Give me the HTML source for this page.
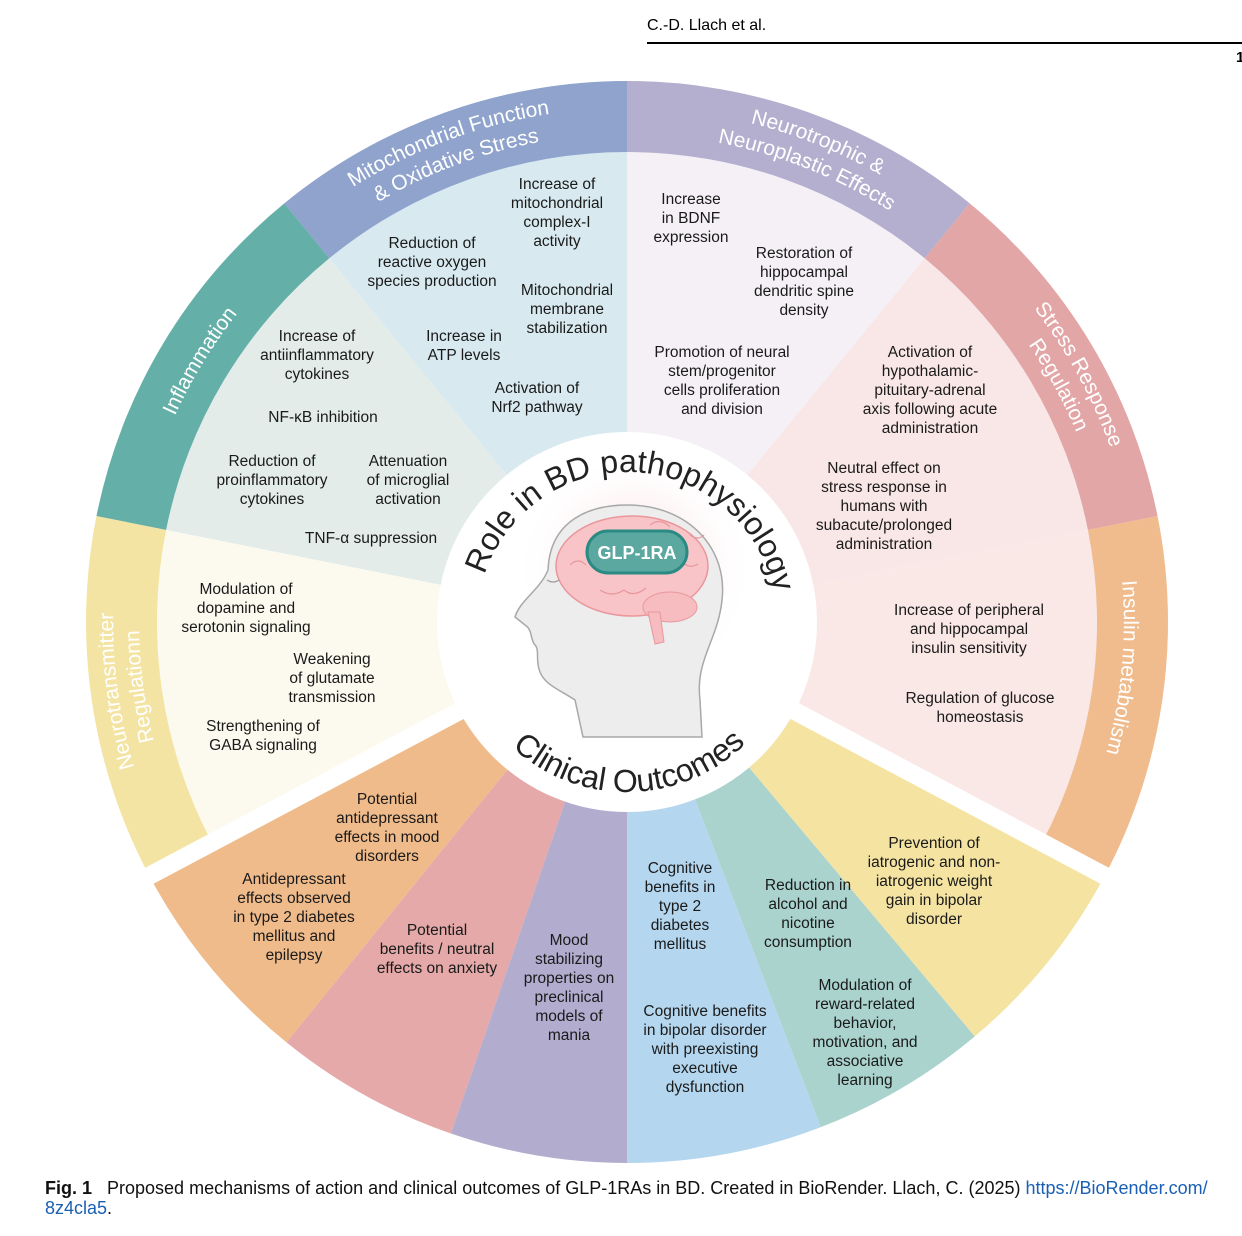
<!DOCTYPE html>
<html><head><meta charset="utf-8">
<style>
body{margin:0;background:#fff;}
#w{position:relative;width:1242px;height:1236px;overflow:hidden;font-family:"Liberation Sans",sans-serif;}
.t{position:absolute;width:300px;text-align:center;font-size:15.5px;line-height:19px;color:#1a1a1a;white-space:nowrap;}
svg{position:absolute;left:0;top:0;}
</style></head><body><div id="w">
<svg width="1242" height="1236" viewBox="0 0 1242 1236">
<defs>
<radialGradient id="glow" cx="0.5" cy="0.5" r="0.5"><stop offset="0" stop-color="#f7c6c8" stop-opacity="0.9"/><stop offset="1" stop-color="#fff" stop-opacity="0"/></radialGradient>
<path id="c514" d="M627,1136 A514,514 0 0 1 627,108 A514,514 0 0 1 627,1136"/>
<path id="c488" d="M627,1110 A488,488 0 0 1 627,134 A488,488 0 0 1 627,1110"/>
<path id="c497" d="M627,1119 A497,497 0 0 1 627,125 A497,497 0 0 1 627,1119"/>
<path id="c150" d="M627,772 A150,150 0 0 1 627,472 A150,150 0 0 1 627,772"/>
<path id="b170" d="M457,622 A170,170 0 0 0 797,622"/>
</defs>
<path d="M627,622 L149.4,876 A541,541 0 0 1 96.5,516 Z" fill="#fcfaee"/>
<path d="M627,622 L96.5,516 A541,541 0 0 1 284.3,203.4 Z" fill="#e3ece9"/>
<path d="M627,622 L284.3,203.4 A541,541 0 0 1 627,81 Z" fill="#d8eaf0"/>
<path d="M627,622 L627,81 A541,541 0 0 1 969.7,203.4 Z" fill="#f4f0f5"/>
<path d="M627,622 L969.7,203.4 A541,541 0 0 1 1157.5,516 Z" fill="#f9e6e6"/>
<path d="M627,622 L1157.5,516 A541,541 0 0 1 1104.6,876 Z" fill="#f9e8e6"/>
<path d="M149.4,876 A541,541 0 0 1 96.5,516 L166.1,529.9 A470,470 0 0 0 212,842.7 Z" fill="#f4e4a3"/>
<path d="M96.5,516 A541,541 0 0 1 284.3,203.4 L329.3,258.3 A470,470 0 0 0 166.1,529.9 Z" fill="#64afa7"/>
<path d="M284.3,203.4 A541,541 0 0 1 627,81 L627,152 A470,470 0 0 0 329.3,258.3 Z" fill="#8fa3cd"/>
<path d="M627,81 A541,541 0 0 1 969.7,203.4 L924.7,258.3 A470,470 0 0 0 627,152 Z" fill="#b4aecf"/>
<path d="M969.7,203.4 A541,541 0 0 1 1157.5,516 L1087.9,529.9 A470,470 0 0 0 924.7,258.3 Z" fill="#e3a6a7"/>
<path d="M1157.5,516 A541,541 0 0 1 1104.6,876 L1042,842.7 A470,470 0 0 0 1087.9,529.9 Z" fill="#f0bc8d"/>
<path d="M627,622 L149.4,876 A541,541 0 0 0 286.5,1042.4 Z" fill="#f0bb8a"/>
<path d="M627,622 L286.5,1042.4 A541,541 0 0 0 450.9,1133.5 Z" fill="#e4a9a8"/>
<path d="M627,622 L450.9,1133.5 A541,541 0 0 0 627,1163 Z" fill="#b2accf"/>
<path d="M627,622 L627,1163 A541,541 0 0 0 820.9,1127.1 Z" fill="#b4d6ee"/>
<path d="M627,622 L820.9,1127.1 A541,541 0 0 0 974.8,1036.4 Z" fill="#aad3ce"/>
<path d="M627,622 L974.8,1036.4 A541,541 0 0 0 1104.6,876 Z" fill="#f4e3a1"/>
<line x1="627" y1="622" x2="132" y2="885" stroke="#fff" stroke-width="18"/>
<line x1="627" y1="622" x2="1122" y2="885" stroke="#fff" stroke-width="18"/>
<circle cx="627" cy="622" r="190" fill="#fff"/>
<g fill="#fff" font-family="Liberation Sans, sans-serif" font-size="21" text-anchor="middle">
<text><textPath href="#c514" startOffset="738">Neurotransmitter</textPath></text>
<text><textPath href="#c488" startOffset="702">Regulationn</textPath></text>
<text><textPath href="#c497" startOffset="1053">Inflammation</textPath></text>
<text><textPath href="#c514" startOffset="1431">Mitochondrial Function</textPath></text>
<text><textPath href="#c488" startOffset="1358">&amp; Oxidative Stress</textPath></text>
<text><textPath href="#c514" startOffset="1809">Neurotrophic &amp;</textPath></text>
<text><textPath href="#c488" startOffset="1717">Neuroplastic Effects</textPath></text>
<text><textPath href="#c514" startOffset="2164">Stress Response</textPath></text>
<text><textPath href="#c488" startOffset="2054">Regulation</textPath></text>
<text><textPath href="#c497" startOffset="2387">Insulin metabolism</textPath></text>
</g>
<circle cx="635" cy="570" r="120" fill="url(#glow)"/>
<path d="M583,737 L575,700 C560,690 545,685 540,672 C535,660 540,650 535,645 C530,640 533,630 525,625 L515,617 C520,600 540,590 548,570 C550,520 590,505 627,505 C690,505 728,550 722,600 C718,640 695,660 700,700 L702,737 Z" fill="#ededed" stroke="#a8a8a8" stroke-width="1.5"/>
<ellipse cx="632" cy="566" rx="76" ry="50" fill="#f8c4c7" stroke="#e9979c" stroke-width="1.5"/>
<ellipse cx="670" cy="607" rx="27" ry="15" fill="#f6bcc0" stroke="#e9979c"/>
<path d="M648,612 L660,612 L664,642 L655,644 Z" fill="#f6bcc0" stroke="#e9979c"/>
<path d="M590,540 q10,-10 20,0 q10,-12 22,-2 M600,590 q12,8 24,0 q10,8 22,-2 M650,525 q10,-8 20,2 M680,560 q8,10 18,4 M570,565 q8,-8 16,0 M690,535 q8,6 14,0" fill="none" stroke="#e9979c" stroke-width="1.2"/>
<path d="M547,580 q6,4 12,0" fill="none" stroke="#999" stroke-width="1.2"/>
<rect x="587" y="531" width="100" height="42" rx="21" fill="#5aa8a0" stroke="#2b8a84" stroke-width="3"/>
<text x="637" y="559" fill="#fff" font-family="Liberation Sans, sans-serif" font-weight="bold" font-size="18" text-anchor="middle">GLP-1RA</text>
<g fill="#222" font-family="Liberation Sans, sans-serif" font-size="32" text-anchor="middle">
<text><textPath href="#c150" startOffset="480">Role in BD pathophysiology</textPath></text>
<text><textPath href="#b170" startOffset="50.5%">Clinical Outcomes</textPath></text>
</g>
<line x1="647" y1="43" x2="1242" y2="43" stroke="#000" stroke-width="2"/>
</svg>
<div style="position:absolute;left:647px;top:17px;font-size:16px;">C.-D. Llach et al.</div>
<div style="position:absolute;left:1236px;top:49px;font-size:15px;font-weight:bold;">1</div>

<div class="t" style="left:407px;top:175px">Increase of<br>mitochondrial<br>complex-I<br>activity</div>
<div class="t" style="left:282px;top:234px">Reduction of<br>reactive oxygen<br>species production</div>
<div class="t" style="left:417px;top:281px">Mitochondrial<br>membrane<br>stabilization</div>
<div class="t" style="left:314px;top:327px">Increase in<br>ATP levels</div>
<div class="t" style="left:387px;top:379px">Activation of<br>Nrf2 pathway</div>
<div class="t" style="left:167px;top:327px">Increase of<br>antiinflammatory<br>cytokines</div>
<div class="t" style="left:173px;top:408px">NF-κB inhibition</div>
<div class="t" style="left:122px;top:452px">Reduction of<br>proinflammatory<br>cytokines</div>
<div class="t" style="left:258px;top:452px">Attenuation<br>of microglial<br>activation</div>
<div class="t" style="left:221px;top:529px">TNF-α suppression</div>
<div class="t" style="left:96px;top:580px">Modulation of<br>dopamine and<br>serotonin signaling</div>
<div class="t" style="left:182px;top:650px">Weakening<br>of glutamate<br>transmission</div>
<div class="t" style="left:113px;top:717px">Strengthening of<br>GABA signaling</div>
<div class="t" style="left:541px;top:190px">Increase<br>in BDNF<br>expression</div>
<div class="t" style="left:654px;top:244px">Restoration of<br>hippocampal<br>dendritic spine<br>density</div>
<div class="t" style="left:572px;top:343px">Promotion of neural<br>stem/progenitor<br>cells proliferation<br>and division</div>
<div class="t" style="left:780px;top:343px">Activation of<br>hypothalamic-<br>pituitary-adrenal<br>axis following acute<br>administration</div>
<div class="t" style="left:734px;top:459px">Neutral effect on<br>stress response in<br>humans with<br>subacute/prolonged<br>administration</div>
<div class="t" style="left:819px;top:601px">Increase of peripheral<br>and hippocampal<br>insulin sensitivity</div>
<div class="t" style="left:830px;top:689px">Regulation of glucose<br>homeostasis</div>
<div class="t" style="left:237px;top:790px">Potential<br>antidepressant<br>effects in mood<br>disorders</div>
<div class="t" style="left:144px;top:870px">Antidepressant<br>effects observed<br>in type 2 diabetes<br>mellitus and<br>epilepsy</div>
<div class="t" style="left:287px;top:921px">Potential<br>benefits / neutral<br>effects on anxiety</div>
<div class="t" style="left:419px;top:931px">Mood<br>stabilizing<br>properties on<br>preclinical<br>models of<br>mania</div>
<div class="t" style="left:530px;top:859px">Cognitive<br>benefits in<br>type 2<br>diabetes<br>mellitus</div>
<div class="t" style="left:555px;top:1002px">Cognitive benefits<br>in bipolar disorder<br>with preexisting<br>executive<br>dysfunction</div>
<div class="t" style="left:658px;top:876px">Reduction in<br>alcohol and<br>nicotine<br>consumption</div>
<div class="t" style="left:715px;top:976px">Modulation of<br>reward-related<br>behavior,<br>motivation, and<br>associative<br>learning</div>
<div class="t" style="left:784px;top:834px">Prevention of<br>iatrogenic and non-<br>iatrogenic weight<br>gain in bipolar<br>disorder</div>

<div style="position:absolute;left:45px;top:1178px;width:1195px;font-size:18px;line-height:20px;color:#111;white-space:nowrap;"><b>Fig. 1</b>&nbsp;&nbsp;&nbsp;Proposed mechanisms of action and clinical outcomes of GLP-1RAs in BD. Created in BioRender. Llach, C. (2025) <span style="color:#1a5fb4">https://BioRender.com/<br>8z4cla5</span>.</div>
</div></body></html>
